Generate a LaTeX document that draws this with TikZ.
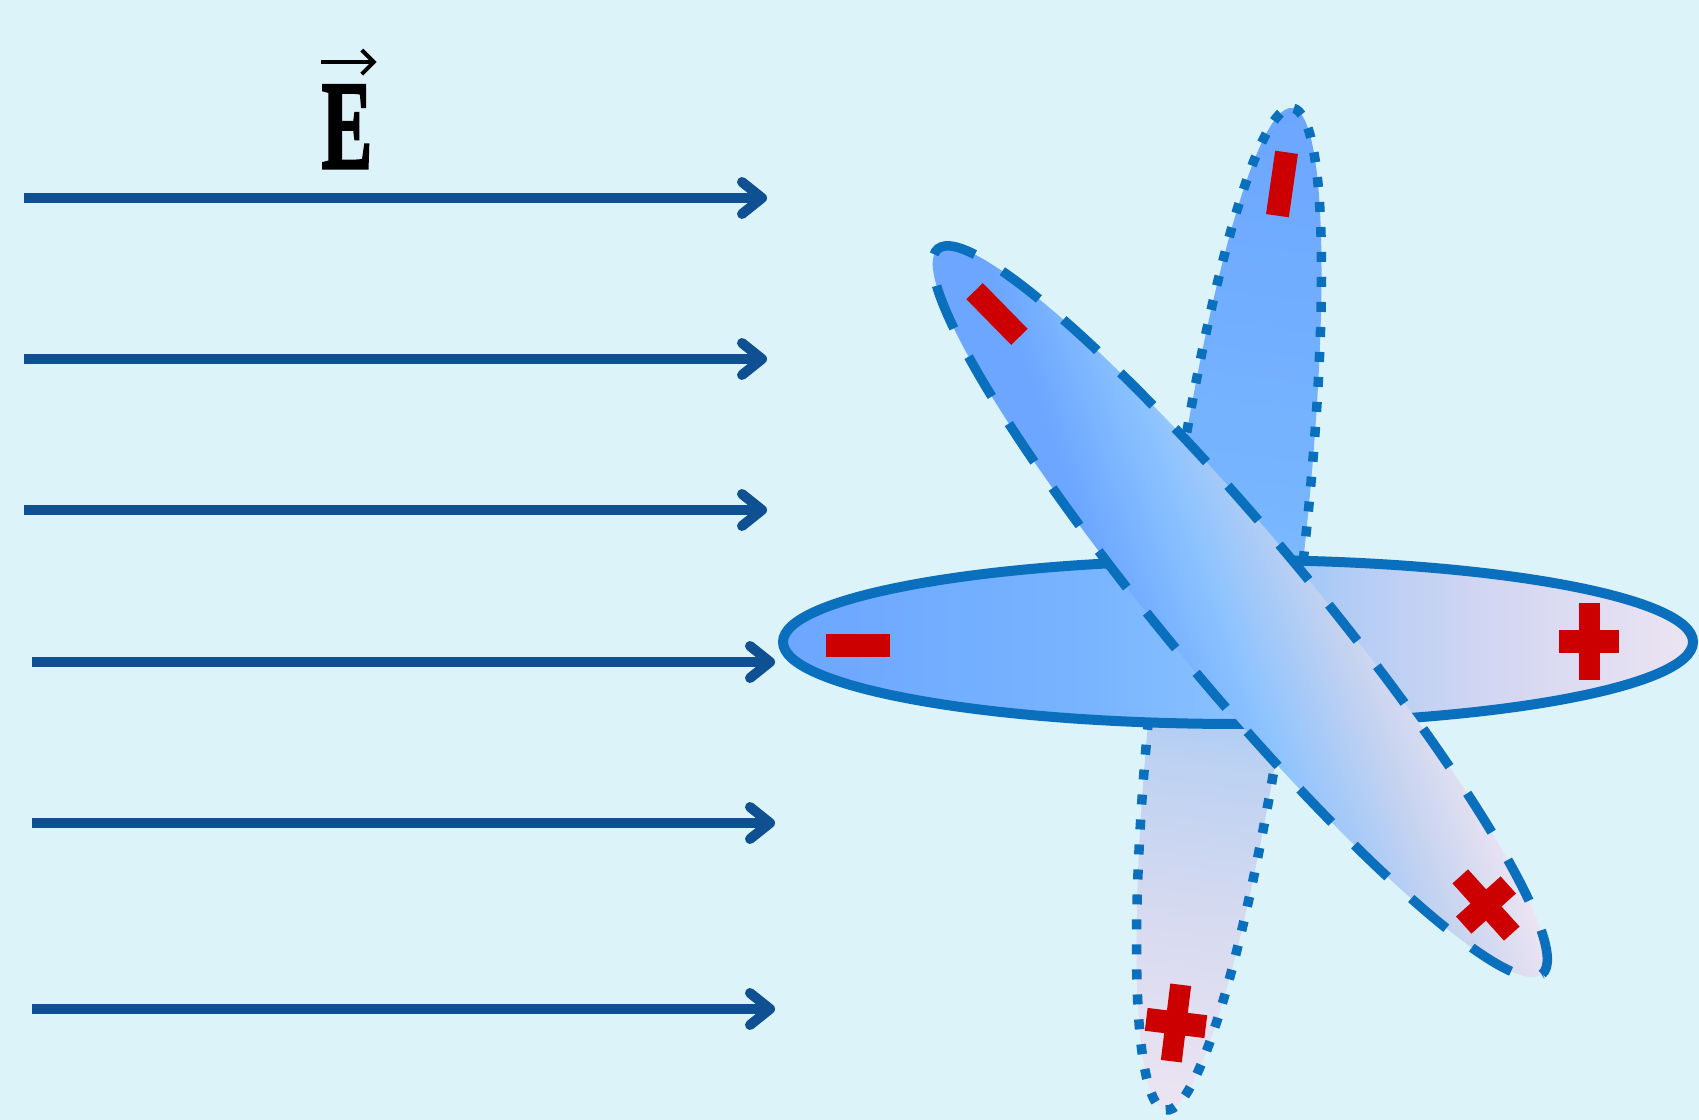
\documentclass[tikz,border=0pt]{standalone}
\usepackage{fontspec}
\newfontfamily\Efont{Liberation Serif}[UprightFont=* Bold, FakeBold=2.5]
\usepackage{graphicx}
\usetikzlibrary{arrows.meta}
\definecolor{bg}{RGB}{220,244,249}
\definecolor{fieldblue}{RGB}{14,80,145}
\definecolor{rimblue}{RGB}{10,112,190}
\definecolor{qred}{RGB}{204,0,0}
\definecolor{fillA}{RGB}{108,166,255}
\definecolor{fillC}{RGB}{236,228,242}
\definecolor{hB}{RGB}{120,180,255}
\definecolor{hC}{RGB}{138,194,255}
\definecolor{hD}{RGB}{180,205,245}
\definecolor{hE}{RGB}{210,214,242}
\definecolor{vB}{RGB}{120,182,255}
\definecolor{vC}{RGB}{135,192,255}
\definecolor{vD}{RGB}{188,209,242}
\definecolor{vE}{RGB}{215,218,240}
\definecolor{dB}{RGB}{138,194,255}
\definecolor{dC}{RGB}{195,210,240}
\pgfdeclarehorizontalshading{dipH}{100bp}{color(0bp)=(fillA); color(25bp)=(fillA); color(41.8bp)=(hB); color(50bp)=(hC); color(56.4bp)=(hD); color(63.7bp)=(hE); color(75bp)=(fillC); color(100bp)=(fillC)}
\pgfdeclarehorizontalshading{dipV}{100bp}{color(0bp)=(fillA); color(25bp)=(fillA); color(45.5bp)=(vB); color(50bp)=(vC); color(57.4bp)=(vD); color(65.5bp)=(vE); color(75bp)=(fillC); color(100bp)=(fillC)}
\pgfdeclarehorizontalshading{dipD}{100bp}{color(0bp)=(fillA); color(25bp)=(fillA); color(33bp)=(fillA); color(46.7bp)=(dB); color(62bp)=(dC); color(75bp)=(fillC); color(100bp)=(fillC)}
\begin{document}
\begin{tikzpicture}[x=0.5pt,y=0.5pt,
  field/.style={draw=fieldblue, line width=5pt, -{Straight Barb[length=10pt,width=16pt,round]}},
  vecarrow/.style={draw=black, line width=2pt, -{Straight Barb[length=6pt,width=12pt]}},
  rimsolid/.style={draw=rimblue, line width=5pt},
  rimdotted/.style={draw=rimblue, line width=4.75pt, dash pattern=on 5pt off 7.5pt},
  rimdashed/.style={draw=rimblue, line width=4.75pt, dash pattern=on 23pt off 16pt},
  minusq/.pic={\fill[qred] (-32,-11.5) rectangle (32,11.5);},
  plusq/.pic={\fill[qred] (-30,-11.5) rectangle (30,11.5); \fill[qred] (-10.5,-38.5) rectangle (10.5,38.5);}
]
\fill[bg] (0,0) rectangle (1699,1120);
\useasboundingbox (0,0) rectangle (1699,1120);

% field lines
\coordinate (s1) at (24,922);  \coordinate (e1) at (767,922);
\coordinate (s2) at (24,761);  \coordinate (e2) at (767,761);
\coordinate (s3) at (24,610);  \coordinate (e3) at (767,610);
\coordinate (s4) at (32,458);  \coordinate (e4) at (775,458);
\coordinate (s5) at (32,297);  \coordinate (e5) at (775,297);
\coordinate (s6) at (32,111);  \coordinate (e6) at (775,111);
\draw[field] (s1) -- (e1);
\draw[field] (s2) -- (e2);
\draw[field] (s3) -- (e3);
\draw[field] (s4) -- (e4);
\draw[field] (s5) -- (e5);
\draw[field] (s6) -- (e6);

% field label
\node[inner sep=0, anchor=base] (E) at (347,952)
  {\scalebox{0.6}[1]{\Efont\fontsize{63}{63}\selectfont E}};
\draw[vecarrow] ([yshift=11.5pt]E.north west) -- ([xshift=2pt,yshift=11.5pt]E.north east);

% vertical dipole (dotted)
\begin{scope}[transform canvas={shift={(1229,511)},rotate=-97.2}]
  \shade[shading=dipV] (0,0) ellipse[x radius=505, y radius=68];
  \draw[rimdotted] (0,0) ellipse[x radius=505, y radius=68];
\end{scope}
\pic[rotate=81.8] (vminus) at (1282,936) {minusq};
\pic[rotate=-7] (vplus) at (1176,97) {plusq};

% horizontal dipole (solid)
\begin{scope}[transform canvas={shift={(1238,478)}}]
  \shade[shading=dipH] (0,0) ellipse[x radius=455, y radius=82];
  \draw[rimsolid] (0,0) ellipse[x radius=455, y radius=82];
\end{scope}
\pic (hminus) at (858,474) {minusq};
\pic (hplus) at (1589,478) {plusq};

% oblique dipole (dashed)
\begin{scope}[transform canvas={shift={(1240,508.5)},rotate=-50.2}]
  \begin{scope}
    \clip (0,0) ellipse[x radius=472, y radius=73];
    \begin{scope}[transform canvas={rotate=70.2}]
      \shade[shading=dipD] (-174,-500) rectangle (174,500);
    \end{scope}
  \end{scope}
  \draw[rimdashed] (0,0) ellipse[x radius=472, y radius=73];
\end{scope}
\pic[rotate=-45.6] (dminus) at (997,806) {minusq};
\pic[rotate=42] (dplus) at (1486,215) {plusq};
\end{tikzpicture}
\end{document}
